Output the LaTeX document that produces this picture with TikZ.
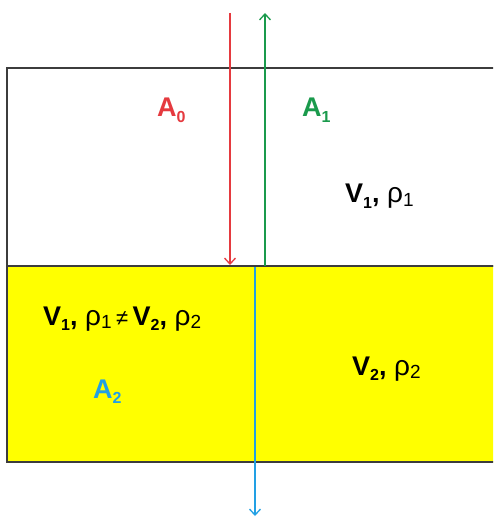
\documentclass[tikz,border=0pt]{standalone}
\usepackage{fontspec}
\setmainfont{Liberation Sans}
\usetikzlibrary{arrows.meta}
\definecolor{ared}{HTML}{E53A3F}
\definecolor{agreen}{HTML}{1A9A4C}
\definecolor{ablue}{HTML}{22A0E4}
\definecolor{ayellow}{HTML}{FFFF00}
\definecolor{aedge}{HTML}{3C3C3C}
\newcommand{\sbb}[1]{\raisebox{-0.2em}{\fontsize{16}{16}\selectfont\bfseries #1}}
\newcommand{\sbr}[1]{\raisebox{-0.12em}{\fontsize{19}{19}\selectfont\mdseries #1}}
\newcommand{\rh}{{\mdseries\fontsize{28}{28}\selectfont ρ}}
\begin{document}
\begin{tikzpicture}[x=1pt,y=-1pt,
  lbl/.style={anchor=base west,inner sep=0pt,font=\fontsize{27}{27}\selectfont\bfseries},
  box/.style={draw=aedge,line width=1.8pt},
  ray/.style={line width=1.3pt,-{Straight Barb[length=6pt,width=11pt,line width=1.3pt]}}]
\useasboundingbox (0,0) rectangle (493,518);
\clip (0,0) rectangle (493,518);
\fill[white] (0,0) rectangle (493,518);
\draw[box,fill=white] (7,68) rectangle (520,266);
\draw[box,fill=ayellow] (7,266) rectangle (520,462);
\coordinate (r0) at (230,13);
\coordinate (r1) at (230,265);
\coordinate (g0) at (265,266);
\coordinate (g1) at (265,13);
\coordinate (b0) at (255,267);
\coordinate (b1) at (255,516);
\draw[ray,draw=ared] (r0) -- (r1);
\draw[ray,draw=agreen] (g0) -- (g1);
\draw[ray,draw=ablue] (b0) -- (b1);
\node[lbl,text=ared] (a0) at (157,117) {A\sbb{0}};
\node[lbl,text=agreen] (a1) at (302,117) {A\sbb{1}};
\node[lbl,text=ablue] (a2) at (93,398) {A\sbb{2}};
\node[lbl] (v1) at (345,203) {V\sbb{1}, \rh\sbr{1}};
\node[lbl] (v2) at (352,375) {V\sbb{2}, \rh\sbr{2}};
\node[lbl] (cmp) at (43,325) {V\sbb{1}, \rh\sbr{1}\,{\mdseries\fontsize{22}{22}\selectfont ≠}\,V\sbb{2}, \rh\sbr{2}};
\end{tikzpicture}
\end{document}
